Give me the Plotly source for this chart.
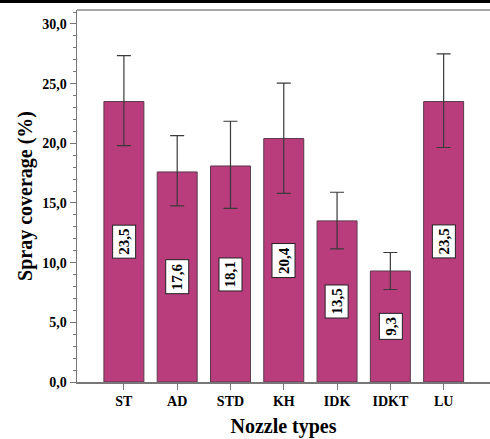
import plotly.graph_objects as go

categories = ["ST", "AD", "STD", "KH", "IDK", "IDKT", "LU"]
means = [23.5, 17.6, 18.1, 20.4, 13.5, 9.3, 23.5]
err_upper = [27.35, 20.65, 21.85, 25.05, 15.9, 10.85, 27.5]
err_lower = [19.8, 14.75, 14.55, 15.8, 11.15, 7.75, 19.65]
labels = ["23,5", "17,6", "18,1", "20,4", "13,5", "9,3", "23,5"]

x_idx = list(range(len(categories)))
plus = [u - m for u, m in zip(err_upper, means)]
minus = [m - l for l, m in zip(err_lower, means)]

FONT = "Liberation Serif"

fig = go.Figure()
fig.add_trace(go.Bar(
    x=x_idx, y=means, width=0.75,
    marker=dict(color="#B93C7D", line=dict(color="#5a3a4a", width=1)),
    error_y=dict(type="data", symmetric=False, array=plus, arrayminus=minus,
                 color="#3a3a3a", thickness=1.2, width=7),
    showlegend=False, hoverinfo="skip",
))

for i, (m, lab) in enumerate(zip(means, labels)):
    fig.add_annotation(x=i, y=m / 2, xref="x", yref="y", text="<b>%s</b>" % lab,
                       textangle=-90, showarrow=False, bgcolor="white",
                       bordercolor="#222", borderwidth=1, borderpad=3,
                       font=dict(family=FONT, size=15, color="black"))

# top black rule
fig.add_shape(type="line", xref="paper", yref="paper", x0=-0.2, x1=1.05,
              y0=1.0228, y1=1.0228, line=dict(color="black", width=3))
# top frame line
fig.add_shape(type="line", xref="paper", yref="paper", x0=0, x1=1.05,
              y0=1, y1=1, line=dict(color="#888", width=1.5))

fig.update_layout(
    width=490, height=439, autosize=False,
    margin=dict(l=77, r=0, t=10, b=57, pad=0),
    paper_bgcolor="white", plot_bgcolor="white",
    separators=",.",
    font=dict(family=FONT, color="black"),
    xaxis=dict(range=[-0.88, 6.87], tickmode="array", tickvals=x_idx,
               ticktext=["<b>%s</b>" % c for c in categories],
               showline=True, linecolor="#777", linewidth=1.5,
               ticks="outside", ticklen=6, tickcolor="#777",
               tickfont=dict(family=FONT, size=14, color="black"),
               title=dict(text="<b>Nozzle types</b>", font=dict(family=FONT, size=20),
                          standoff=10),
               showgrid=False, zeroline=False),
    yaxis=dict(range=[0, 31.17], tickmode="linear", tick0=0, dtick=5,
               tickformat=".1f", showline=True, linecolor="#777", linewidth=1.5,
               ticks="outside", ticklen=6, tickcolor="#777",
               minor=dict(dtick=1, ticks="outside", ticklen=3, tickcolor="#777"),
               tickfont=dict(family=FONT, size=14, color="black", weight="bold"),
               title=dict(text="<b>Spray coverage (%)</b>", font=dict(family=FONT, size=20),
                          standoff=4),
               showgrid=False, zeroline=False),
)

fig.write_html("out.html", config={"staticPlot": True, "displayModeBar": False})
